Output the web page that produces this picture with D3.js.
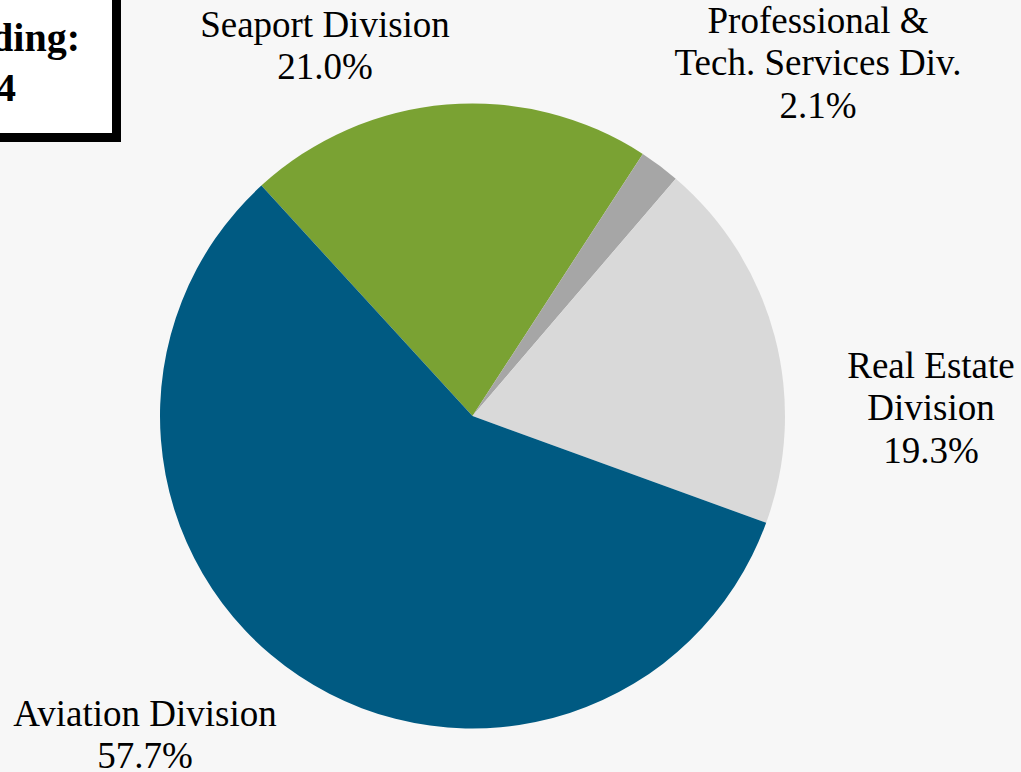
<!DOCTYPE html>
<html>
<head>
<meta charset="utf-8">
<script src="https://cdn.jsdelivr.net/npm/d3@7/dist/d3.min.js"></script>
<style>
  html, body { margin: 0; padding: 0; background: #f7f7f7; }
  svg { display: block; }
  text { font-family: "Liberation Serif", "Times New Roman", serif; fill: #000; }
</style>
</head>
<body>
<svg id="chart" width="1021" height="772"></svg>
<script>
// Division shares, clockwise from the Seaport slice
const divisions = ["Seaport Division", "Professional & Tech. Services Div.", "Real Estate Division", "Aviation Division"];
const shares = [21.0, 2.1, 19.3, 57.7];
const sliceColors = ["#7aa233", "#a6a6a6", "#d9d9d9", "#005a82"];
// Label lines per slice
const labelLines = [
  ["Seaport Division"],
  ["Professional &", "Tech. Services Div."],
  ["Real Estate", "Division"],
  ["Aviation Division"]
];
const labelPos = [[325, 37], [818, 33], [931, 378], [145, 726]];
const boxLines = ["Funding:", "2014"];

const W = 1021, H = 772;
const cx = 472.5, cy = 416, radius = 312.5;
const startDeg = -42.5;

const svg = d3.select("#chart");
svg.append("rect").attr("width", W).attr("height", H).attr("fill", "#f7f7f7");

const data = divisions.map((d, i) => ({ name: d, value: shares[i], color: sliceColors[i], lines: labelLines[i], pos: labelPos[i] }));

const pie = d3.pie()
  .sort(null)
  .value(d => d.value)
  .startAngle(startDeg * Math.PI / 180)
  .endAngle((startDeg + 360) * Math.PI / 180);

const arc = d3.arc().innerRadius(0).outerRadius(radius);

const g = svg.append("g").attr("transform", `translate(${cx},${cy})`);
g.selectAll("path")
  .data(pie(data))
  .join("path")
  .attr("d", arc)
  .attr("fill", d => d.data.color);

// Slice labels: name lines followed by percentage
const lineH = 42.3;
const labels = svg.append("g");
data.forEach(d => {
  const t = labels.append("text")
    .attr("x", d.pos[0])
    .attr("y", d.pos[1])
    .attr("text-anchor", "middle")
    .style("font-size", "37px");
  const all = d.lines.concat([d3.format(".1f")(d.value) + "%"]);
  all.forEach((line, i) => {
    t.append("tspan")
      .attr("x", d.pos[0])
      .attr("y", d.pos[1] + i * lineH)
      .text(line);
  });
});

// Title box in the top-left corner (extends past the edge)
const box = svg.append("g");
box.append("rect").attr("x", -40).attr("y", -40).attr("width", 40 + 121).attr("height", 40 + 142).attr("fill", "#000");
box.append("rect").attr("x", -40).attr("y", -40).attr("width", 40 + 112).attr("height", 40 + 133).attr("fill", "#fff");
box.append("text")
  .attr("x", 80).attr("y", 51)
  .attr("text-anchor", "end")
  .style("font-size", "40px").style("font-weight", "bold")
  .text(boxLines[0]);
box.append("text")
  .attr("x", 16).attr("y", 101)
  .attr("text-anchor", "end")
  .style("font-size", "40px").style("font-weight", "bold")
  .text(boxLines[1]);
</script>
</body>
</html>
